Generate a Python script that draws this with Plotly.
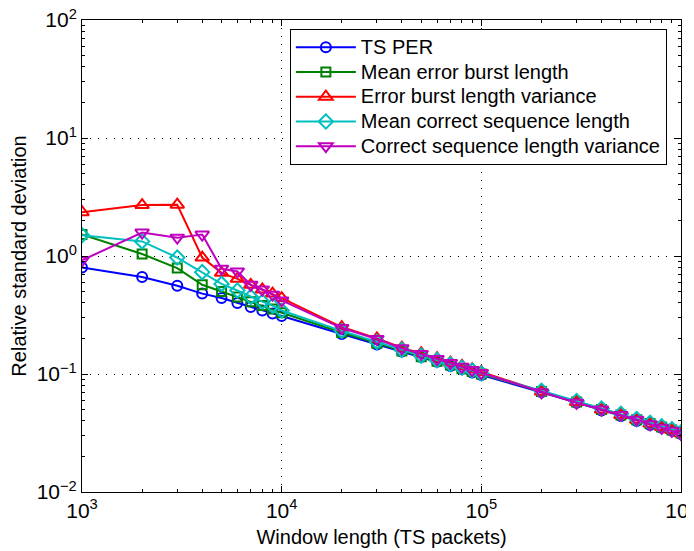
import plotly.graph_objects as go

window_len = [1e3, 2e3, 3e3, 4e3, 5e3, 6e3, 7e3, 8e3, 9e3,
              1e4, 2e4, 3e4, 4e4, 5e4, 6e4, 7e4, 8e4, 9e4,
              1e5, 2e5, 3e5, 4e5, 5e5, 6e5, 7e5, 8e5, 9e5, 1e6]

ts_per = [0.80, 0.665, 0.56, 0.48, 0.44, 0.40, 0.37, 0.345, 0.325,
          0.31, 0.218, 0.178, 0.155, 0.139, 0.127, 0.117, 0.110, 0.103,
          0.098, 0.070, 0.057, 0.049, 0.044, 0.040, 0.037, 0.035, 0.033, 0.031]

mean_err_burst = [1.52, 1.04, 0.79, 0.57, 0.50, 0.45, 0.41, 0.38, 0.355,
                  0.33, 0.225, 0.182, 0.157, 0.140, 0.128, 0.119, 0.111, 0.105,
                  0.100, 0.071, 0.058, 0.050, 0.045, 0.041, 0.038, 0.0355, 0.0335, 0.0316]

err_burst_var = [2.35, 2.70, 2.72, 0.97, 0.72, 0.64, 0.57, 0.52, 0.48,
                 0.44, 0.25, 0.20, 0.167, 0.150, 0.136, 0.125, 0.117, 0.110,
                 0.104, 0.071, 0.058, 0.050, 0.045, 0.041, 0.038, 0.0355, 0.0335, 0.0315]

mean_corr_seq = [1.50, 1.33, 0.97, 0.73, 0.58, 0.51, 0.45, 0.41, 0.38,
                 0.345, 0.232, 0.187, 0.160, 0.143, 0.131, 0.121, 0.113, 0.107,
                 0.101, 0.072, 0.059, 0.051, 0.046, 0.0415, 0.0385, 0.036, 0.034, 0.032]

corr_seq_var = [0.92, 1.58, 1.43, 1.52, 0.78, 0.74, 0.57, 0.52, 0.47,
                0.42, 0.245, 0.198, 0.165, 0.148, 0.134, 0.124, 0.115, 0.108,
                0.102, 0.070, 0.057, 0.050, 0.045, 0.041, 0.0375, 0.035, 0.033, 0.031]

series_names = ["TS PER", "Mean error burst length", "Error burst length variance",
                "Mean correct sequence length", "Correct sequence length variance"]
series_vals = [ts_per, mean_err_burst, err_burst_var, mean_corr_seq, corr_seq_var]

x_tick_vals = [1e3, 1e4, 1e5, 1e6]
x_tick_text = ["10<sup>3</sup>", "10<sup>4</sup>", "10<sup>5</sup>", "10<sup>6</sup>"]
y_tick_vals = [1e-2, 1e-1, 1e0, 1e1, 1e2]
y_tick_text = ["10<sup>\u22122</sup>", "10<sup>\u22121</sup>", "10<sup>0</sup>",
               "10<sup>1</sup>", "10<sup>2</sup>"]

colors = ["#0000FF", "#008000", "#FF0000", "#00BFBF", "#BF00BF"]
symbols = ["circle-open", "square-open", "triangle-up-open", "diamond-open", "triangle-down-open"]
sizes = [10, 9, 12, 11, 12]

FONT = "Liberation Sans, Arial, sans-serif"

fig = go.Figure()
for name, vals, col, sym, sz in zip(series_names, series_vals, colors, symbols, sizes):
    fig.add_trace(go.Scatter(
        x=window_len, y=vals, mode="lines+markers",
        name="<span style='font-size:20px'>" + name + "</span>",
        line=dict(color=col, width=2),
        marker=dict(symbol=sym, size=sz, color=col, line=dict(color=col, width=2)),
    ))


def minor_vals(lo, hi):
    out = []
    for e in range(lo, hi):
        for m in range(2, 10):
            out.append(m * 10.0 ** e)
    return out


axis_common = dict(
    type="log", automargin=False, ticklabeloverflow="allow",
    showline=True, linecolor="black", linewidth=1, mirror="allticks",
    ticks="inside", ticklen=6, tickcolor="black", tickwidth=1,
    showgrid=True, gridcolor="black", gridwidth=1, griddash="1px,7px",
    zeroline=False,
    tickfont=dict(family=FONT, size=21, color="black"),
)

fig.update_xaxes(range=[3, 6], tickmode="array", tickvals=x_tick_vals, ticktext=x_tick_text,
                 minor=dict(tickmode="array", tickvals=minor_vals(3, 6), ticks="inside",
                            ticklen=3, tickcolor="black", tickwidth=1, showgrid=False),
                 title=dict(text="Window length (TS packets)", standoff=8,
                            font=dict(family=FONT, size=20, color="black")),
                 **axis_common)
fig.update_yaxes(range=[-2, 2], tickmode="array", tickvals=y_tick_vals, ticktext=y_tick_text,
                 minor=dict(tickmode="array", tickvals=minor_vals(-2, 2), ticks="inside",
                            ticklen=3, tickcolor="black", tickwidth=1, showgrid=False),
                 title=dict(text="Relative standard deviation", standoff=8,
                            font=dict(family=FONT, size=20, color="black")),
                 **axis_common)

# the page adds an 8 px body margin, so the figure is 8 px smaller each way
fig.update_layout(
    width=686, height=543,
    margin=dict(l=74, r=13, t=12, b=59),
    paper_bgcolor="white", plot_bgcolor="white",
    font=dict(family=FONT, color="black"),
    showlegend=True,
    legend=dict(x=0.347, y=0.981, xanchor="left", yanchor="top",
                font=dict(family=FONT, size=16.7, color="black"),
                bgcolor="white", bordercolor="black", borderwidth=1,
                tracegroupgap=0, itemwidth=60),
)

fig.write_html("out.html")
